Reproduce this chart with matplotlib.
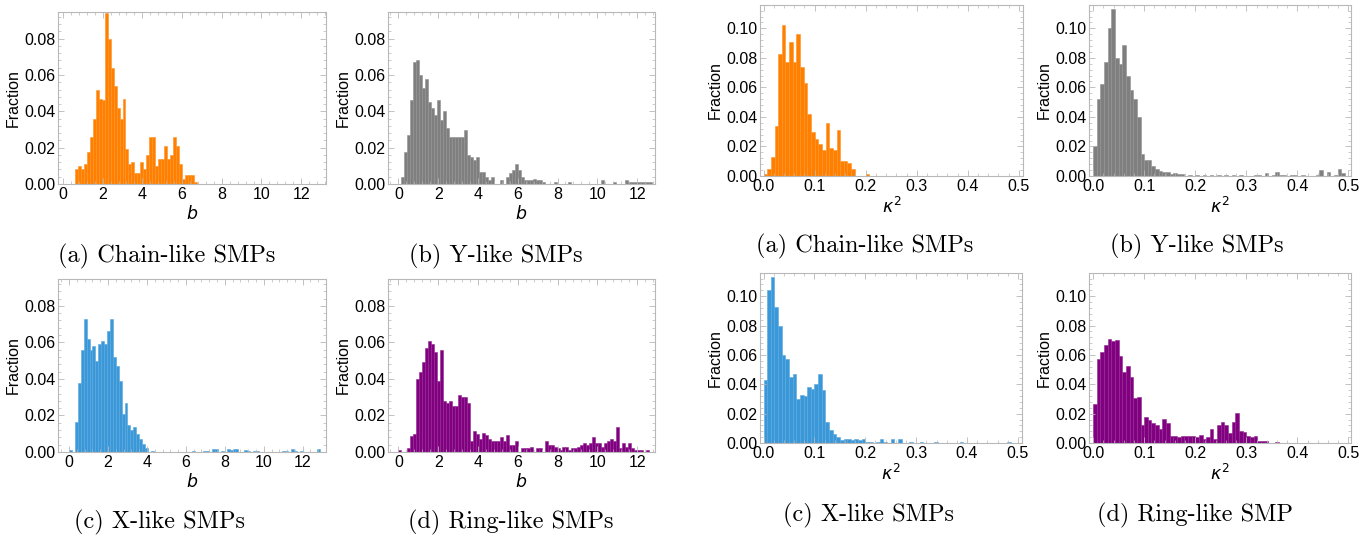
import numpy as np
import matplotlib
matplotlib.use("Agg")
import matplotlib.pyplot as plt
from matplotlib.ticker import MultipleLocator

# bin widths
b_width = 0.15
k2_width = 0.5 / 70

# fraction per bin, starting at b = 0
chain_b = [0, 0, 0, 0, 0.008, 0.0097, 0.008, 0.011, 0.0176, 0.026, 0.036, 0.052, 0.047, 0.046,
           0.094, 0.080, 0.064, 0.054, 0.042, 0.036, 0.047, 0.019, 0.011, 0.012, 0.006, 0.006,
           0.012, 0.008, 0.016, 0.026, 0.026, 0.010, 0.014, 0.014, 0.021, 0.014, 0.016, 0.026,
           0.021, 0.011, 0.003, 0.005, 0.005, 0.005, 0.001]
y_b = [0, 0.004, 0.0175, 0.027, 0.046, 0.067, 0.068, 0.060, 0.053, 0.058, 0.045, 0.042, 0.038,
       0.046, 0.035, 0.040, 0.031, 0.026, 0.026, 0.026, 0.026, 0.026, 0.030, 0.016, 0.015,
       0.013, 0.015, 0.0065, 0.0065, 0.004, 0.002, 0.004, 0, 0, 0.002, 0, 0.004, 0.006, 0.0075,
       0.011, 0.0075, 0.004, 0.002, 0.002, 0.002, 0.003, 0.002, 0.002, 0.001, 0, 0, 0, 0.001,
       0, 0, 0, 0, 0.001] + [0] * 10 + [0.002, 0, 0, 0, 0.001, 0, 0, 0, 0.002] + [0.001] * 8
x_b = [0.001, 0, 0.0165, 0.038, 0.056, 0.073, 0.062, 0.056, 0.058, 0.050, 0.059, 0.061, 0.059,
       0.066, 0.073, 0.052, 0.047, 0.039, 0.021, 0.027, 0.015, 0.012, 0.0135, 0.010, 0.007,
       0.0045, 0.002, 0, 0.0007] + [0] * 13 + [0.0005, 0, 0, 0, 0.0007, 0.0007, 0, 0.0015,
       0.0015, 0, 0.0007, 0, 0.0015, 0.001, 0.0015, 0.0015, 0, 0, 0.0012, 0.0007, 0, 0.0007,
       0.0007] + [0] * 8 + [0.0007, 0.0007, 0, 0.0015, 0.0007, 0, 0.0007] + [0] * 5 + [0.0015]
ring_b = [0.001, 0, 0, 0.002, 0.009, 0.010, 0.040, 0.044, 0.049, 0.057, 0.061, 0.059, 0.055,
          0.039, 0.056, 0.028, 0.027, 0.028, 0.025, 0.025, 0.031, 0.030, 0.030, 0.027, 0.006,
          0.0115, 0.010, 0.007, 0.0105, 0.0095, 0.007, 0.006, 0.006, 0.006, 0.008, 0.006, 0.0095,
          0.004, 0.004, 0.006, 0, 0.002, 0.002, 0.002, 0.003, 0, 0.002, 0.002, 0, 0.006, 0.004,
          0.004, 0.003, 0.002, 0.001, 0.003, 0.003, 0.001, 0.002, 0.002, 0.003, 0.004, 0.005,
          0.004, 0.005, 0.008, 0.005, 0.005, 0.003, 0.005, 0.006, 0.007, 0.006, 0.0135, 0.002,
          0.005, 0.003, 0.005, 0.002, 0.001, 0.001, 0.001, 0, 0.001]

# fraction per bin, starting at kappa^2 = 0
chain_k2 = [0.0016, 0.0045, 0.013, 0.034, 0.0825, 0.1025, 0.077, 0.091, 0.077, 0.096, 0.074,
            0.063, 0.042, 0.030, 0.025, 0.022, 0.0175, 0.036, 0.019, 0.0175, 0.031, 0.010,
            0.010, 0.009, 0.005, 0, 0, 0, 0.0015]
y_k2 = [0.020, 0.052, 0.062, 0.077, 0.100, 0.113, 0.080, 0.076, 0.089, 0.068, 0.058, 0.052,
        0.040, 0.015, 0.011, 0.011, 0.007, 0.0045, 0.0035, 0.003, 0.003, 0.0015, 0.002, 0.0015,
        0.0015, 0, 0.001, 0, 0.001, 0, 0.001, 0, 0.001, 0, 0.001, 0, 0.001, 0, 0.001, 0, 0.001,
        0, 0, 0, 0.001, 0.001, 0, 0.002, 0, 0.001, 0.003, 0.001, 0.001, 0, 0.001, 0.001, 0,
        0.001, 0, 0, 0, 0.001, 0.004, 0, 0.003, 0, 0.001, 0.005, 0.002]
x_k2 = [0.043, 0.104, 0.113, 0.0925, 0.080, 0.060, 0.057, 0.045, 0.047, 0.030, 0.033, 0.032,
        0.038, 0.037, 0.040, 0.047, 0.036, 0.014, 0.009, 0.006, 0.004, 0.002, 0.0027, 0.0027,
        0.002, 0.0027, 0.002, 0.0027, 0.001, 0.0005, 0, 0.001, 0.0025, 0.001, 0, 0.0025, 0,
        0.0025, 0, 0, 0.001, 0, 0, 0.001, 0, 0, 0, 0.001] + [0] * 6 + [0.001] + [0] * 12 + [0.001]
ring_k2 = [0.0266, 0.0575, 0.062, 0.067, 0.071, 0.0695, 0.070, 0.059, 0.0485, 0.0525, 0.045,
           0.0305, 0.031, 0.012, 0.0175, 0.0155, 0.0135, 0.012, 0.0095, 0.0165, 0.0135, 0.0045,
           0.0045, 0.004, 0.005, 0.005, 0.005, 0.005, 0.004, 0.0055, 0.003, 0.004, 0.0095, 0.003,
           0.012, 0.014, 0.012, 0.0065, 0.014, 0.0205, 0.008, 0.0075, 0.005, 0.004, 0.005,
           0.0015, 0.0015, 0.0015, 0, 0, 0.001]

orange = "#ff8000"
gray = "#7f7f7f"
blue = "#3a98d8"
purple = "#800080"

W, H = 1372, 536
fig = plt.figure(figsize=(W / 100, H / 100), dpi=100)

tick_font = "Liberation Sans"
frame_col = "#b8b8b8"


def lighter(color, amount=0.15):
    c = np.array(matplotlib.colors.to_rgb(color))
    return tuple(c + (1 - c) * amount)


def add_panel(box, heights, width, color, xlim, ylim, xmaj, ymaj, xlabel):
    l, t, r, b = box
    ax = fig.add_axes([l / W, 1 - b / H, (r - l) / W, (b - t) / H])
    edges = np.arange(len(heights)) * width
    ax.bar(edges, heights, width=width, align="edge", color=color,
           edgecolor=lighter(color), linewidth=0.4)
    ax.set_xlim(*xlim)
    ax.set_ylim(*ylim)
    ax.xaxis.set_major_locator(MultipleLocator(xmaj))
    ax.xaxis.set_minor_locator(MultipleLocator(xmaj / 5))
    ax.yaxis.set_major_locator(MultipleLocator(ymaj))
    ax.yaxis.set_minor_locator(MultipleLocator(ymaj / 5))
    if xmaj < 1:
        ax.xaxis.set_major_formatter(matplotlib.ticker.FormatStrFormatter("%.1f"))
    else:
        ax.xaxis.set_major_formatter(matplotlib.ticker.FormatStrFormatter("%d"))
    ax.yaxis.set_major_formatter(matplotlib.ticker.FormatStrFormatter("%.2f"))
    for s in ax.spines.values():
        s.set_color(frame_col)
        s.set_linewidth(0.8)
    ax.tick_params(which="both", direction="in", top=True, right=True, color=frame_col,
                   labelsize=11.5, pad=2)
    ax.tick_params(which="major", length=4, width=0.6)
    ax.tick_params(which="minor", length=2, width=0.5)
    for lab in ax.get_xticklabels() + ax.get_yticklabels():
        lab.set_fontfamily(tick_font)
    ax.set_ylabel("Fraction", fontsize=11.5, fontfamily=tick_font, labelpad=2)
    ax.set_xlabel(xlabel, fontsize=12.5, labelpad=2)
    return ax


b_ylim = (0, 0.0947)
k2_ylim = (0, 0.1158)
k2_lab = r"$\kappa^2$"

add_panel((58, 12, 326, 184), chain_b, b_width, orange, (-0.25, 13.25), b_ylim, 2, 0.02, r"$b$")
add_panel((388, 12, 655, 184), y_b, b_width, gray, (-0.52, 12.9), b_ylim, 2, 0.02, r"$b$")
add_panel((58, 279, 326, 452), x_b, b_width, blue, (-0.57, 13.2), b_ylim, 2, 0.02, r"$b$")
add_panel((388, 279, 655, 452), ring_b, b_width, purple, (-0.52, 12.9), b_ylim, 2, 0.02, r"$b$")

add_panel((760, 5, 1023, 176), chain_k2, k2_width, orange, (-0.007, 0.508), k2_ylim, 0.1, 0.02, k2_lab)
add_panel((1089, 5, 1351, 176), y_k2, k2_width, gray, (-0.008, 0.505), k2_ylim, 0.1, 0.02, k2_lab)
add_panel((760, 273, 1022, 443), x_k2, k2_width, blue, (-0.007, 0.508), k2_ylim, 0.1, 0.02, k2_lab)
add_panel((1089, 273, 1351, 443), ring_k2, k2_width, purple, (-0.008, 0.505), k2_ylim, 0.1, 0.02, k2_lab)

captions = [
    ("(a) Chain-like SMPs", 167, 256),
    ("(b) Y-like SMPs", 496, 256),
    ("(c) X-like SMPs", 160, 522),
    ("(d) Ring-like SMPs", 511, 522),
    ("(a) Chain-like SMPs", 865, 246),
    ("(b) Y-like SMPs", 1197, 246),
    ("(c) X-like SMPs", 869, 515),
    ("(d) Ring-like SMP", 1195, 515),
]
for txt, cx, cy in captions:
    fig.text(cx / W, 1 - cy / H, txt, ha="center", va="center", fontsize=17.5, fontfamily="cmr10")

plt.savefig("out.png", dpi=100)
